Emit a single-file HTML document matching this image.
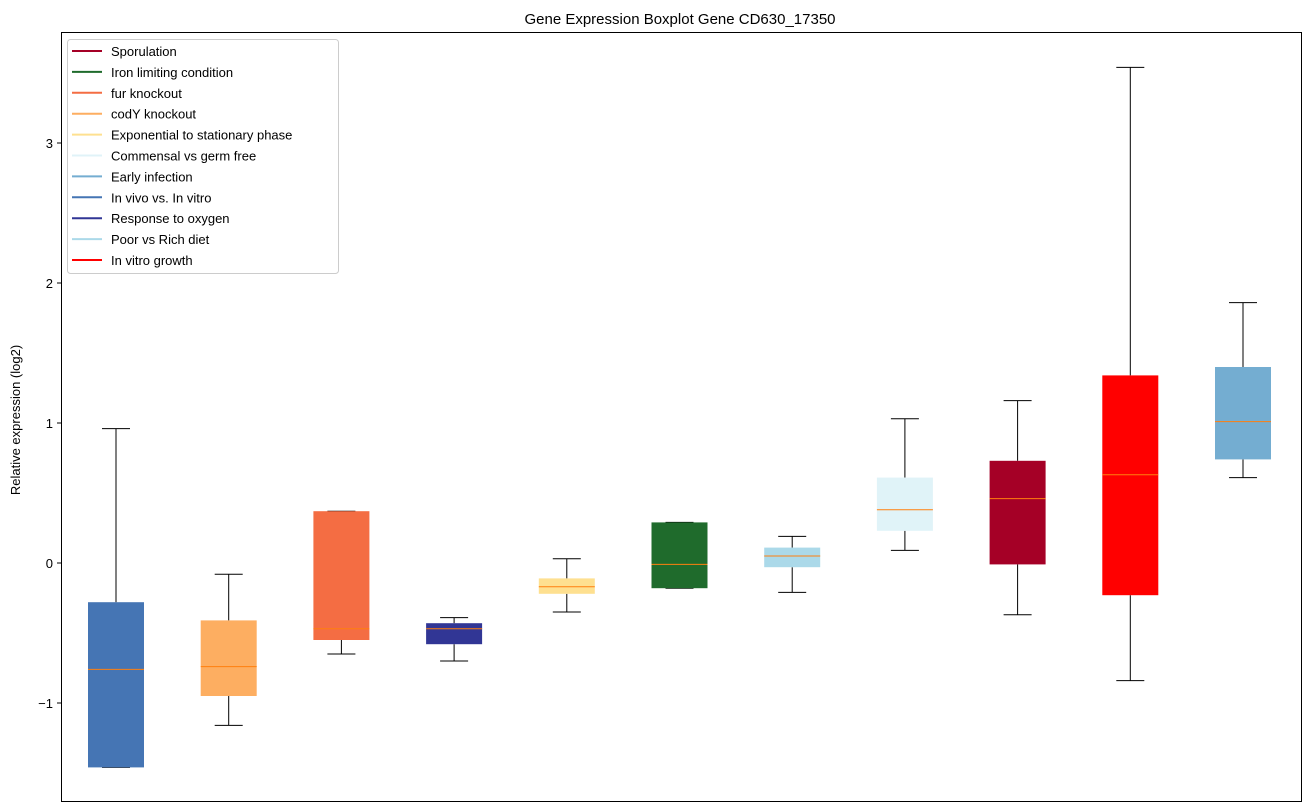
<!DOCTYPE html>
<html><head><meta charset="utf-8"><style>
body{margin:0;background:#fff;}
svg{display:block;font-family:"Liberation Sans","DejaVu Sans",sans-serif;}
</style></head><body>
<svg id="chart" width="1309" height="812">
<rect x="0" y="0" width="1309" height="812" fill="#fff"/>
<text x="680" y="24" text-anchor="middle" font-size="15">Gene Expression Boxplot Gene CD630_17350</text>
<text transform="translate(20,420) rotate(-90)" text-anchor="middle" font-size="13">Relative expression (log2)</text>
<g id="boxes"></g>
<g id="yaxis"></g>
<rect x="61.5" y="32.5" width="1240" height="769" fill="none" stroke="#000" stroke-width="1"/>
<g id="legend"></g>
</svg>
<script>
const categories=["In vivo vs. In vitro","codY knockout","fur knockout","Response to oxygen","Exponential to stationary phase","Iron limiting condition","Poor vs Rich diet","Commensal vs germ free","Sporulation","In vitro growth","Early infection"];
const colors=["#4575b4","#fdae61","#f46d43","#313695","#fee090","#1f6b2c","#abd9e9","#e0f3f8","#a50026","#ff0000","#74add1"];
const whiskerLow=[-1.46,-1.16,-0.65,-0.70,-0.35,-0.18,-0.21,0.09,-0.37,-0.84,0.61];
const q1=[-1.46,-0.95,-0.55,-0.58,-0.22,-0.18,-0.03,0.23,-0.01,-0.23,0.74];
const medians=[-0.76,-0.74,-0.47,-0.47,-0.17,-0.01,0.05,0.38,0.46,0.63,1.01];
const q3=[-0.28,-0.41,0.37,-0.43,-0.11,0.29,0.11,0.61,0.73,1.34,1.40];
const whiskerHigh=[0.96,-0.08,0.37,-0.39,0.03,0.29,0.19,1.03,1.16,3.54,1.86];
const yTicks=[-1,0,1,2,3];
const yTickLabels=["\u22121","0","1","2","3"];
const legendLabels=["Sporulation","Iron limiting condition","fur knockout","codY knockout","Exponential to stationary phase","Commensal vs germ free","Early infection","In vivo vs. In vitro","Response to oxygen","Poor vs Rich diet","In vitro growth"];
const legendColors=["#a50026","#1f6b2c","#f46d43","#fdae61","#fee090","#e0f3f8","#74add1","#4575b4","#313695","#abd9e9","#ff0000"];

const NS="http://www.w3.org/2000/svg";
const y=v=>563-140*v;
const x=i=>116+i*112.7;
function mk(tag,attrs,parent){const e=document.createElementNS(NS,tag);for(const k in attrs)e.setAttribute(k,attrs[k]);parent.appendChild(e);return e;}
const gb=document.getElementById('boxes');
categories.forEach((c,i)=>{
  const g=mk('g',{},gb);
  
  
  const cx=x(i);
  mk('line',{x1:cx,x2:cx,y1:y(q3[i]),y2:y(whiskerHigh[i]),stroke:'#000'},g);
  mk('line',{x1:cx,x2:cx,y1:y(q1[i]),y2:y(whiskerLow[i]),stroke:'#000'},g);
  mk('line',{x1:cx-14,x2:cx+14,y1:y(whiskerHigh[i]),y2:y(whiskerHigh[i]),stroke:'#000'},g);
  mk('line',{x1:cx-14,x2:cx+14,y1:y(whiskerLow[i]),y2:y(whiskerLow[i]),stroke:'#000'},g);
  mk('rect',{x:cx-28,y:y(q3[i]),width:56,height:Math.max(1,y(q1[i])-y(q3[i])),fill:colors[i]},g);
  mk('line',{x1:cx-28,x2:cx+28,y1:y(medians[i]),y2:y(medians[i]),stroke:'#ff7f0e'},g);
});
const ya=document.getElementById('yaxis');
yTicks.forEach((t,i)=>{
  const yy=y(t);
  mk('line',{x1:57,x2:61,y1:yy,y2:yy,stroke:'#000'},ya);
  const tx=mk('text',{x:53,y:yy+5,'text-anchor':'end','font-size':'13'},ya);
  tx.textContent=yTickLabels[i];
  
  
});
const lg=document.getElementById('legend');


mk('rect',{x:67.5,y:39.5,width:271,height:234,rx:3,fill:'#fff','fill-opacity':0.8,stroke:'#ccc'},lg);
legendLabels.forEach((l,i)=>{
  const yy=51+i*20.9;
  const g=mk('g',{},lg);
  
  
  mk('line',{x1:72,x2:102,y1:yy,y2:yy,stroke:legendColors[i],'stroke-width':2},g);
  const t=mk('text',{x:111,y:yy+5,'font-size':'13'},g);
  t.textContent=l;
});
</script>
</body></html>
